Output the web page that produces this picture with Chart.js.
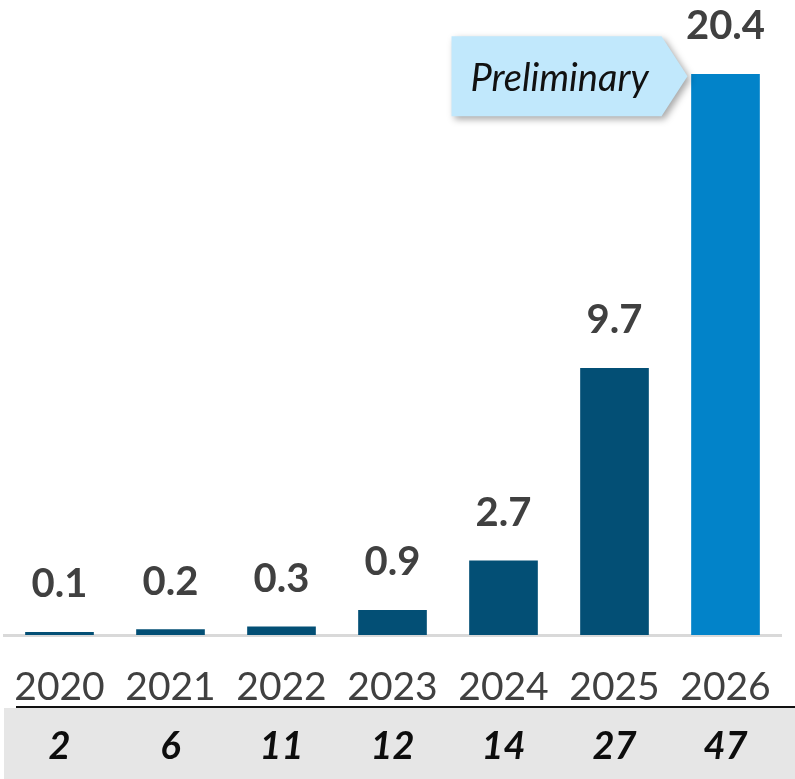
<!DOCTYPE html>
<html>
<head>
<meta charset="utf-8">
<script src="https://cdn.jsdelivr.net/npm/chart.js@4"></script>
<style>
  html, body { margin: 0; padding: 0; background: #ffffff; }
  #wrap { width: 795px; height: 779px; position: relative; }
</style>
</head>
<body>
<div id="wrap"><canvas id="c" width="795" height="779"></canvas></div>
<script>
const categories = ["2020", "2021", "2022", "2023", "2024", "2025", "2026"];
const values = [0.1, 0.2, 0.3, 0.9, 2.7, 9.7, 20.4];
const counts = ["2", "6", "11", "12", "14", "27", "47"];
const calloutText = "Preliminary";
const calloutIndex = 6;

const darkBlue = "#034f75";
const brightBlue = "#0283c9";
const barColors = categories.map((c, i) => i === calloutIndex ? brightBlue : darkBlue);

const overlay = {
  id: "overlay",
  afterDatasetsDraw(chart) {
    const ctx = chart.ctx;
    const meta = chart.getDatasetMeta(0);
    const xs = chart.scales.x;
    ctx.save();
    // value labels
    ctx.fillStyle = "#404040";
    ctx.font = "bold 40px Lato";
    ctx.textAlign = "center";
    ctx.textBaseline = "alphabetic";
    meta.data.forEach((bar, i) => {
      ctx.fillText(values[i].toFixed(1), bar.x, bar.y - 35);
    });
    // bottom band
    ctx.fillStyle = "#e6e6e6";
    ctx.fillRect(4, 708, 791, 71);
    ctx.strokeStyle = "#111111";
    ctx.lineWidth = 2;
    ctx.beginPath();
    ctx.moveTo(16, 707);
    ctx.lineTo(795, 707);
    ctx.stroke();
    ctx.fillStyle = "#0d0d0d";
    ctx.font = "italic bold 38px Lato";
    counts.forEach((n, i) => {
      ctx.fillText(n, xs.getPixelForValue(i), 759);
    });
    // callout
    const b = meta.data[calloutIndex];
    const px = b.x - b.width / 2 - 4;
    const py = b.y + 2;
    const left = px - 236, right = px - 26, top = py - 40, bottom = py + 40;
    ctx.save();
    ctx.shadowColor = "rgba(0,0,0,0.35)";
    ctx.shadowBlur = 7;
    ctx.shadowOffsetX = 3;
    ctx.shadowOffsetY = 3;
    ctx.fillStyle = "#c1e8fc";
    ctx.beginPath();
    ctx.moveTo(left, top);
    ctx.lineTo(right, top);
    ctx.lineTo(px, py);
    ctx.lineTo(right, bottom);
    ctx.lineTo(left, bottom);
    ctx.closePath();
    ctx.fill();
    ctx.restore();
    ctx.fillStyle = "#111111";
    ctx.font = "italic 38px Lato";
    ctx.textAlign = "center";
    ctx.fillText(calloutText, (left + right) / 2 + 3, py + 15);
    ctx.restore();
  }
};

new Chart(document.getElementById("c"), {
  type: "bar",
  data: {
    labels: categories,
    datasets: [{
      data: values,
      backgroundColor: barColors,
      barThickness: 68,
      borderWidth: 0
    }]
  },
  options: {
    responsive: false,
    animation: false,
    layout: { padding: { left: 4, right: 14, top: 0, bottom: 72 } },
    plugins: { legend: { display: false }, tooltip: { enabled: false } },
    scales: {
      y: { display: false, min: 0, max: 23.1 },
      x: {
        grid: { display: false, drawTicks: false },
        border: { display: true, color: "#d9d9d9", width: 3 },
        ticks: { color: "#404040", font: { family: "Lato", size: 39 }, padding: 29, maxRotation: 0 },
        afterFit(scale) { scale.height = 72; scale.paddingLeft = 0; scale.paddingRight = 0; }
      }
    }
  },
  plugins: [overlay]
});
</script>
</body>
</html>
